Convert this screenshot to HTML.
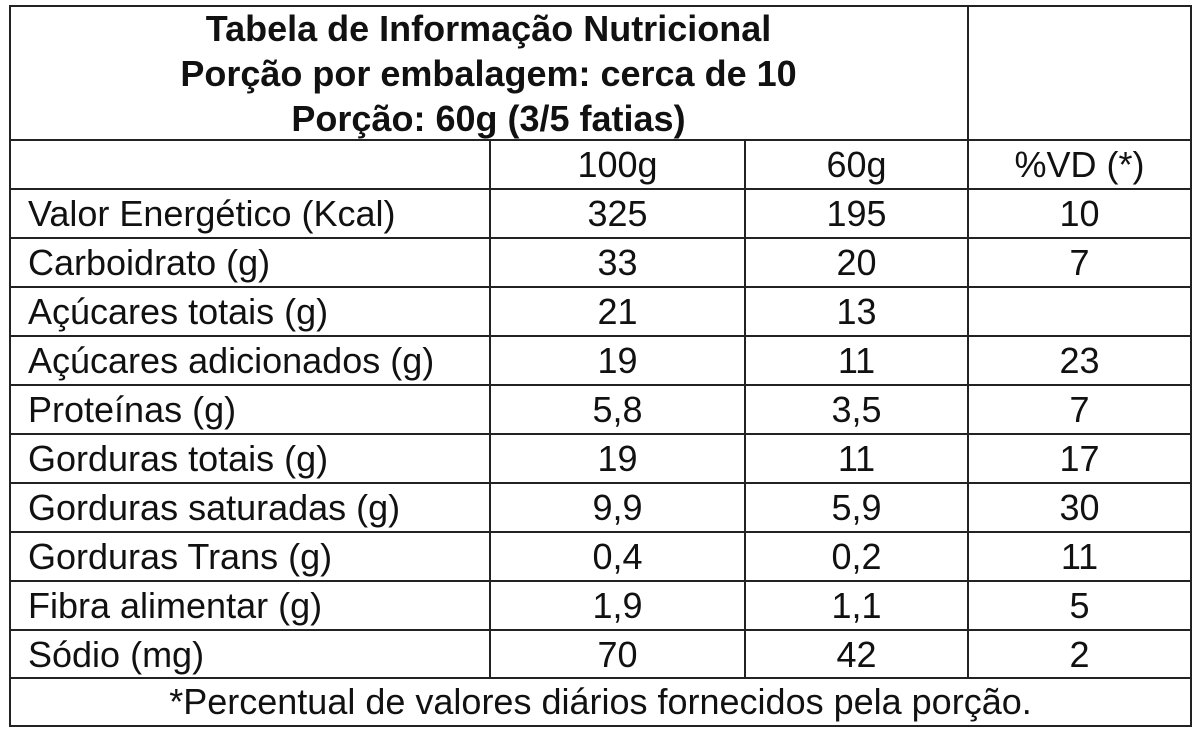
<!DOCTYPE html>
<html><head><meta charset="utf-8"><style>
html,body{margin:0;padding:0;background:#fff;width:1200px;height:735px;overflow:hidden}
body{font-family:"Liberation Sans",Arial,sans-serif;color:#111;position:relative}
.l{position:absolute;background:#222}
.t{position:absolute;font-size:36px;line-height:49px;white-space:nowrap}
.c{text-align:center}
.h{position:absolute;left:9px;width:959px;text-align:center;font-weight:bold;font-size:36px;line-height:45px;white-space:nowrap}
</style></head><body>
<div class="l" style="left:9px;top:5px;width:1183px;height:2px"></div>
<div class="l" style="left:9px;top:725px;width:1183px;height:2px"></div>
<div class="l" style="left:9px;top:5px;width:2px;height:722px"></div>
<div class="l" style="left:1190px;top:5px;width:2px;height:722px"></div>
<div class="l" style="left:967px;top:5px;width:2px;height:134px"></div>
<div class="h" style="top:6px">Tabela de Informação Nutricional<br>Porção por embalagem: cerca de 10<br>Porção: 60g (3/5 fatias)</div>
<div id="grid"></div>
<div class="t c" style="left:9px;width:1183px;top:678px;line-height:47px">*Percentual de valores diários fornecidos pela porção.</div>
<script>
const rows=[["","100g","60g","%VD (*)"],["Valor Energético (Kcal)","325","195","10"],["Carboidrato (g)","33","20","7"],["Açúcares totais (g)","21","13",""],["Açúcares adicionados (g)","19","11","23"],["Proteínas (g)","5,8","3,5","7"],["Gorduras totais (g)","19","11","17"],["Gorduras saturadas (g)","9,9","5,9","30"],["Gorduras Trans (g)","0,4","0,2","11"],["Fibra alimentar (g)","1,9","1,1","5"],["Sódio (mg)","70","42","2"]];
const g=document.getElementById('grid');
const cols=[9,490,745,968,1191];
const top0=139,rh=49;
function add(cls,st,txt){const d=document.createElement('div');d.className=cls;d.style.cssText=st;if(txt!==undefined)d.textContent=txt;g.appendChild(d);return d;}
for(let i=0;i<=rows.length;i++){
 const y=top0+i*(i==rows.length?48.9:rh);
 const ln=add('l',`left:9px;top:${Math.round(y)}px;width:1183px;height:2px`);
 
 
}
for(let k=1;k<=3;k++){
 const ln=add('l',`left:${cols[k]-1}px;top:${top0}px;width:2px;height:${rows.length*rh}px`);
 
 
}
rows.forEach((r,i)=>{
 const y=top0+i*rh+1;
 r.forEach((v,j)=>{
  const st=j==0?`left:28px;top:${y}px`:`left:${cols[j]}px;width:${cols[j+1]-cols[j]}px;top:${y}px`;
  const d=add(j==0?'t':'t c',st,v);
  
  
 });
});
</script>
</body></html>
